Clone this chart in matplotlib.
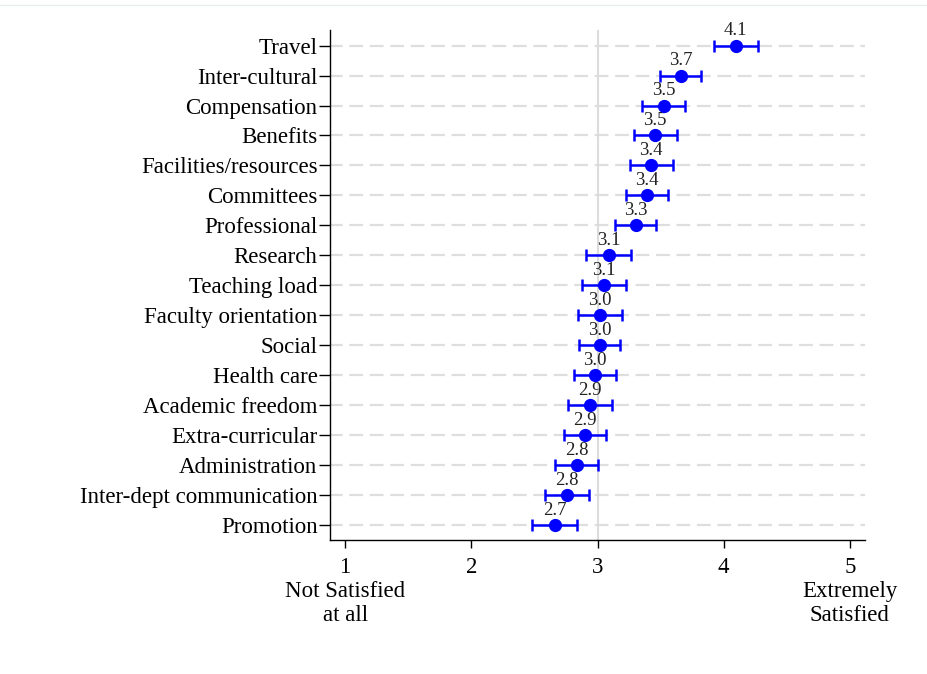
import matplotlib
matplotlib.use('Agg')
import matplotlib.pyplot as plt

# categories, top to bottom
items = ['Travel', 'Inter-cultural', 'Compensation', 'Benefits', 'Facilities/resources',
         'Committees', 'Professional', 'Research', 'Teaching load', 'Faculty orientation',
         'Social', 'Health care', 'Academic freedom', 'Extra-curricular', 'Administration',
         'Inter-dept communication', 'Promotion']
means = [4.095, 3.658, 3.524, 3.458, 3.426, 3.392, 3.303, 3.088, 3.051, 3.017,
         3.016, 2.982, 2.942, 2.901, 2.834, 2.758, 2.66]
errs = [0.174, 0.166, 0.168, 0.171, 0.171, 0.168, 0.163, 0.18, 0.174, 0.175,
        0.166, 0.168, 0.175, 0.17, 0.168, 0.171, 0.18]
xticks = [1, 2, 3, 4, 5]
xlabels = ['1\nNot Satisfied\nat all', '2', '3', '4', '5\nExtremely\nSatisfied']

plt.rcParams['font.family'] = ['Liberation Serif', 'DejaVu Serif']

fig = plt.figure(figsize=(9.27, 6.74), dpi=100)
ax = fig.add_axes([330 / 927, 1 - 540 / 674, 535 / 927, 510 / 674])

n = len(items)
ys = list(range(n - 1, -1, -1))

for y in ys:
    ax.axhline(y, color='#dedede', lw=1.6, ls=(0.5, (6.2, 3)), zorder=0)
ax.axvline(3, color='#dcdcdc', lw=1.5, zorder=0)

ax.errorbar(means, ys, xerr=errs, fmt='o', color='#0000ff', ecolor='#0000ff',
            ms=8.5, elinewidth=1.8, capsize=4.5, capthick=1.8, zorder=3)
for m, y in zip(means, ys):
    ax.annotate(f'{m:.1f}', (m, y), xytext=(0, 4.5), textcoords='offset points',
                ha='center', va='bottom', fontsize=13.5, color='#222222')

ax.set_xlim(0.88, 5.12)
ax.set_ylim(-0.5, n - 0.48)
ax.set_yticks(ys)
ax.set_yticklabels(items, fontsize=16.5)
ax.set_xticks(xticks)
ax.set_xticklabels(xlabels, fontsize=16.5, linespacing=1.2)
ax.tick_params(axis='y', length=8, width=1, pad=1)
ax.tick_params(axis='x', length=6, width=1, pad=6)

for s in ['top', 'right']:
    ax.spines[s].set_visible(False)
for s in ['left', 'bottom']:
    ax.spines[s].set_linewidth(1)

fig.add_artist(plt.Line2D([0, 1], [1 - 5 / 674, 1 - 5 / 674], color='#e8ecec', lw=1))

fig.savefig('out.png', dpi=100)
